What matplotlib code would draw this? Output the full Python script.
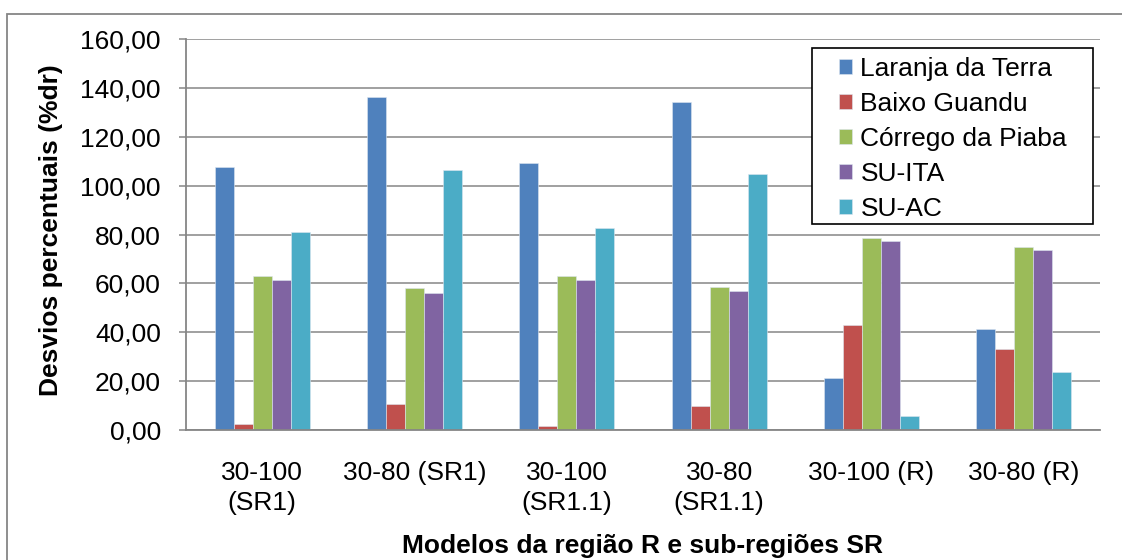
import numpy as np
import matplotlib
matplotlib.use("Agg")
import matplotlib.pyplot as plt
from matplotlib.patches import Rectangle

# data
categories = ["30-100\n(SR1)", "30-80 (SR1)", "30-100\n(SR1.1)",
              "30-80\n(SR1.1)", "30-100 (R)", "30-80 (R)"]
series_names = ["Laranja da Terra", "Baixo Guandu", "Córrego da Piaba", "SU-ITA", "SU-AC"]
laranja = [107.5, 136.4, 109.1, 134.1, 21.1, 41.5]
baixo = [2.3, 10.8, 1.5, 9.7, 42.8, 33.3]
corrego = [63.1, 58.1, 63.0, 58.5, 78.4, 74.9]
su_ita = [61.5, 56.2, 61.2, 56.7, 77.5, 73.7]
su_ac = [81.0, 106.5, 82.6, 104.6, 5.9, 23.6]
colors = ["#4F81BD", "#C0504D", "#9BBB59", "#8064A2", "#4BACC6"]
y_ticks = [0, 20, 40, 60, 80, 100, 120, 140, 160]

GRAY = "#868686"
FS = 19
W, H = 1122, 560

plt.rcParams["font.family"] = ["Liberation Sans", "DejaVu Sans"]


def main():
    fig = plt.figure(figsize=(W / 100, H / 100), dpi=100, facecolor="white")
    ax = fig.add_axes([186 / W, 1 - 430 / H, 914 / W, 391 / H])

    values = [laranja, baixo, corrego, su_ita, su_ac]
    x = np.arange(len(categories))
    w = 0.125
    for i, (name, vals, c) in enumerate(zip(series_names, values, colors)):
        ax.bar(x + (i - 2) * w, vals, w, color=c, label=name,
               edgecolor="#dde6f0", linewidth=0.4, zorder=3)

    ax.set_xlim(-0.5, len(categories) - 0.5)
    ax.set_ylim(0, 160)
    ax.set_yticks(y_ticks)
    ax.set_yticklabels([f"{v:.2f}".replace(".", ",") for v in y_ticks], fontsize=FS)
    ax.set_xticks(x)
    ax.set_xticklabels(categories, fontsize=FS, linespacing=1.32)
    ax.tick_params(axis="x", length=0, pad=22)
    ax.tick_params(axis="y", length=5, width=1.1, color=GRAY, pad=13)

    ax.grid(axis="y", color=GRAY, linewidth=1.1, zorder=0)
    ax.set_axisbelow(True)
    for s in ["top", "right"]:
        ax.spines[s].set_visible(False)
    for s in ["left", "bottom"]:
        ax.spines[s].set_color(GRAY)
        ax.spines[s].set_linewidth(1.3)
        ax.spines[s].set_zorder(4)

    ax.set_ylabel("Desvios percentuais (%dr)", fontsize=FS, fontweight="bold")
    ax.yaxis.label.set_va("center")
    ax.yaxis.set_label_coords(-0.148, 0.51)
    ax.set_xlabel("Modelos da região R e sub-regiões SR", fontsize=FS, fontweight="bold")
    ax.xaxis.label.set_va("center")
    ax.xaxis.set_label_coords(0.5, -0.297)

    # legend without its own frame; a frame with Excel-like padding is drawn below
    leg = ax.legend(loc="upper right", bbox_to_anchor=((1067 - 186) / 914, (430 - 57) / 391),
                    fontsize=FS, frameon=False, handlelength=0.5, handleheight=0.5,
                    handletextpad=0.3, labelspacing=0.42, borderpad=0,
                    borderaxespad=0)
    leg.set_zorder(6)

    fig.canvas.draw()
    bb = leg.get_window_extent(fig.canvas.get_renderer())
    x0, x1 = bb.x0 - 27, bb.x1 + 26
    y_top = H - 48
    y_bot = bb.y0 - 3
    fig.patches.append(Rectangle((x0 / W, y_bot / H), (x1 - x0) / W, (y_top - y_bot) / H,
                                 transform=fig.transFigure, facecolor="white",
                                 edgecolor="black", linewidth=1.2, zorder=5))
    # move the legend above the frame
    leg.remove()
    fig.legends.append(leg)
    leg.set_figure(fig)

    # chart border (Excel-style frame)
    fig.patches.append(Rectangle((7 / W, -0.1), 1.2, 1.1 - 14 / H,
                                 transform=fig.transFigure, fill=False,
                                 edgecolor=GRAY, linewidth=1.3))

    fig.savefig("out.png", dpi=100, facecolor="white")


if __name__ == "__main__":
    main()
